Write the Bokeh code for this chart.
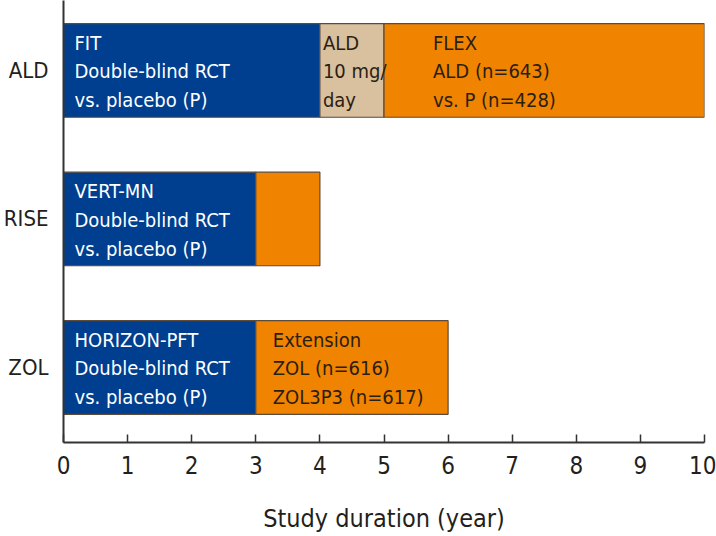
from bokeh.plotting import figure
from bokeh.models import ColumnDataSource, FixedTicker, Range1d
from bokeh.core.properties import value
from bokeh.embed import file_html
from bokeh.resources import INLINE

# ---- data ----
studies = ["ALD", "RISE", "ZOL"]
study_pos = [3, 2, 1]
seg_study = ["ALD", "ALD", "ALD", "RISE", "RISE", "ZOL", "ZOL"]
seg_start = [0, 4, 5, 0, 3, 0, 3]
seg_end = [4, 5, 10, 3, 4, 3, 6]
seg_phase = ["rct", "ald10", "ext", "rct", "ext", "rct", "ext"]
seg_text = [
    "FIT\nDouble-blind RCT\nvs. placebo (P)",
    "ALD\n10 mg/\nday",
    "FLEX\nALD (n=643)\nvs. P (n=428)",
    "VERT-MN\nDouble-blind RCT\nvs. placebo (P)",
    "",
    "HORIZON-PFT\nDouble-blind RCT\nvs. placebo (P)",
    "Extension\nZOL (n=616)\nZOL3P3 (n=617)",
]
x_ticks = [0, 1, 2, 3, 4, 5, 6, 7, 8, 9, 10]

# ---- styles ----
phase_fill = {"rct": "#003F8F", "ald10": "#D9C09F", "ext": "#F08300"}
phase_text = {"rct": "#FFFFFF", "ald10": "#2B1E12", "ext": "#2B1E12"}
text_xoff = [11, 3, 49, 11, 0, 11, 17]
FONT = "'DejaVu Sans Condensed', Roboto"

pos_map = dict(zip(studies, study_pos))
src = ColumnDataSource(dict(
    y=[pos_map[s] for s in seg_study],
    left=seg_start,
    right=seg_end,
    fill=[phase_fill[p] for p in seg_phase],
    tcol=[phase_text[p] for p in seg_phase],
    text=seg_text,
    xoff=text_xoff,
))

p = figure(width=716, height=536, output_backend="svg", toolbar_location=None,
           x_range=Range1d(0, 10), y_range=Range1d(0.495, 3.471),
           min_border_left=62, min_border_right=12, min_border_top=0,
           min_border_bottom=94)
p.outline_line_color = None
p.grid.grid_line_color = None
p.background_fill_color = "white"

p.hbar(y="y", left="left", right="right", height=0.63, fill_color="fill",
       line_color="#5C4A3A", line_width=1.2, source=src)

p.text(x="left", y="y", text="text", x_offset="xoff", y_offset=1,
       text_color="tcol", text_font=value(FONT), text_font_size="20px",
       text_baseline="middle", text_align="left", text_line_height=1.2,
       source=src)

# x axis
xa = p.xaxis[0]
xa.ticker = FixedTicker(ticks=x_ticks)
xa.axis_line_color = "#333333"
xa.axis_line_width = 2
xa.major_tick_line_color = "#333333"
xa.major_tick_line_width = 1.5
xa.major_tick_in = 8
xa.major_tick_out = 0
xa.minor_tick_line_color = None
xa.major_label_text_font = FONT
xa.major_label_text_font_size = "24px"
xa.major_label_text_color = "#231F20"
xa.major_label_standoff = 13
xa.axis_label = "Study duration (year)"
xa.axis_label_text_font = FONT
xa.axis_label_text_font_size = "25px"
xa.axis_label_text_font_style = "normal"
xa.axis_label_text_color = "#231F20"
xa.axis_label_standoff = 27

# y axis
ya = p.yaxis[0]
ya.ticker = FixedTicker(ticks=study_pos)
ya.major_label_overrides = {pos: name for pos, name in zip(study_pos, studies)}
ya.axis_line_color = "#333333"
ya.axis_line_width = 2
ya.major_tick_line_color = None
ya.minor_tick_line_color = None
ya.major_label_text_font = FONT
ya.major_label_text_font_size = "22px"
ya.major_label_text_color = "#231F20"
ya.major_label_standoff = 9

open("out.html", "w").write(file_html(p, INLINE))
